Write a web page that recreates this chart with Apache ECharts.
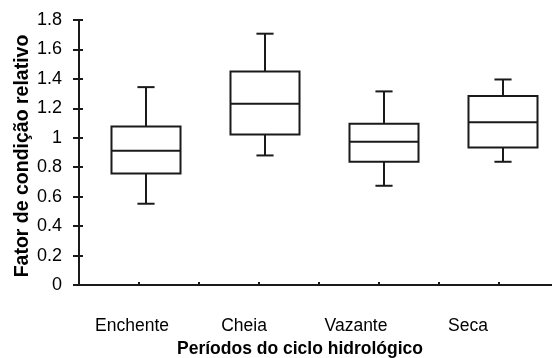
<!DOCTYPE html>
<html><head><meta charset="utf-8">
<script src="https://cdn.jsdelivr.net/npm/echarts@6/dist/echarts.min.js"></script>
<style>html,body{margin:0;padding:0;background:#fff}#c{width:552px;height:358px}</style>
</head><body><div id="c"></div>
<script>
const categories = ['Enchente', 'Cheia', 'Vazante', 'Seca'];
const minVals    = [0.552, 0.880, 0.674, 0.837];
const q1Vals     = [0.757, 1.022, 0.837, 0.934];
const medianVals = [0.912, 1.231, 0.973, 1.106];
const q3Vals     = [1.077, 1.450, 1.095, 1.283];
const maxVals    = [1.344, 1.707, 1.315, 1.396];
const yTitle = 'Fator de condição relativo';
const xTitle = 'Períodos do ciclo hidrológico';

const FONT = "'Liberation Sans', Arial, sans-serif";
const INK = '#1a1a1a';
const TOP = 20, BOTTOM = 73;

const boxData = categories.map((c, i) => [i, minVals[i], q1Vals[i], medianVals[i], q3Vals[i], maxVals[i]]);

const chart = echarts.init(document.getElementById('c'), null, {renderer: 'canvas'});

function renderBox(params, api) {
  const i = api.value(0);
  const pMin = api.coord([i, api.value(1)]);
  const pQ1 = api.coord([i, api.value(2)]);
  const pMed = api.coord([i, api.value(3)]);
  const pQ3 = api.coord([i, api.value(4)]);
  const pMax = api.coord([i, api.value(5)]);
  const band = api.size([1, 0])[0];
  const hb = band * 0.29;
  const hc = band * 0.072;
  const cx = Math.round(pMed[0]);
  const st = {stroke: INK, lineWidth: 2, fill: null};
  const line = (x1, y1, x2, y2) => ({type: 'line', shape: {x1, y1, x2, y2}, style: st});
  return {
    type: 'group',
    children: [
      line(cx, pMax[1], cx, pQ3[1]),
      line(cx, pQ1[1], cx, pMin[1]),
      line(cx - hc, pMax[1], cx + hc, pMax[1]),
      line(cx - hc, pMin[1], cx + hc, pMin[1]),
      {type: 'rect', shape: {x: cx - hb, y: pQ3[1], width: 2 * hb, height: pQ1[1] - pQ3[1]},
       style: {stroke: INK, lineWidth: 2, fill: '#fff'}},
      line(cx - hb, pMed[1], cx + hb, pMed[1])
    ]
  };
}

const gridBase = {top: TOP, bottom: BOTTOM, containLabel: false, outerBoundsMode: 'none'};

const option = {
  animation: false,
  backgroundColor: '#fff',
  grid: [
    Object.assign({left: 79, right: -7}, gridBase),
    Object.assign({left: 86.8, width: 476}, gridBase),
    Object.assign({left: 76, width: 448}, gridBase)
  ],
  xAxis: [
    {type: 'value', gridIndex: 0, min: 0, max: 8, interval: 1,
     axisLine: {show: true, lineStyle: {color: INK, width: 2}},
     axisTick: {show: true, inside: true, length: 3, lineStyle: {color: INK, width: 2}},
     axisLabel: {show: false}, splitLine: {show: false}},
    {type: 'category', gridIndex: 1, data: categories, show: false},
    {type: 'category', gridIndex: 2, data: categories,
     axisLine: {show: false}, axisTick: {show: false},
     axisLabel: {margin: 32, fontSize: 17.5, color: '#000', fontFamily: FONT},
     name: xTitle, nameLocation: 'middle', nameGap: 55, nameMoveOverlap: false,
     nameTextStyle: {fontSize: 17.5, fontWeight: 'bold', color: '#000', fontFamily: FONT}}
  ],
  yAxis: [
    {type: 'value', gridIndex: 0, min: 0, max: 1.8, interval: 0.2, position: 'left',
     axisLine: {show: true, lineStyle: {color: INK, width: 2}},
     axisTick: {show: true, inside: false, length: 6, lineStyle: {color: INK, width: 2}},
     axisLabel: {margin: 17, fontSize: 18, color: '#000', fontFamily: FONT},
     splitLine: {show: false},
     name: yTitle, nameLocation: 'middle', nameGap: 46, nameMoveOverlap: false,
     nameTextStyle: {fontSize: 19.5, fontWeight: 'bold', color: '#000', fontFamily: FONT,
                     padding: [0, 7, 0, 0]}},
    {type: 'value', gridIndex: 0, min: 0, max: 1.8, interval: 0.2, position: 'left',
     axisLine: {show: false},
     axisTick: {show: true, inside: true, length: 4, lineStyle: {color: INK, width: 2}},
     axisLabel: {show: false}, splitLine: {show: false}},
    {type: 'value', gridIndex: 1, min: 0, max: 1.8, interval: 0.2, show: false, splitLine: {show: false}},
    {type: 'value', gridIndex: 2, min: 0, max: 1.8, interval: 0.2, show: false, splitLine: {show: false}}
  ],
  series: [{
    type: 'custom',
    xAxisIndex: 1, yAxisIndex: 2,
    data: boxData,
    encode: {x: 0, y: [1, 2, 3, 4, 5]},
    renderItem: renderBox,
    silent: true
  }]
};
chart.setOption(option);
</script>
</body></html>
